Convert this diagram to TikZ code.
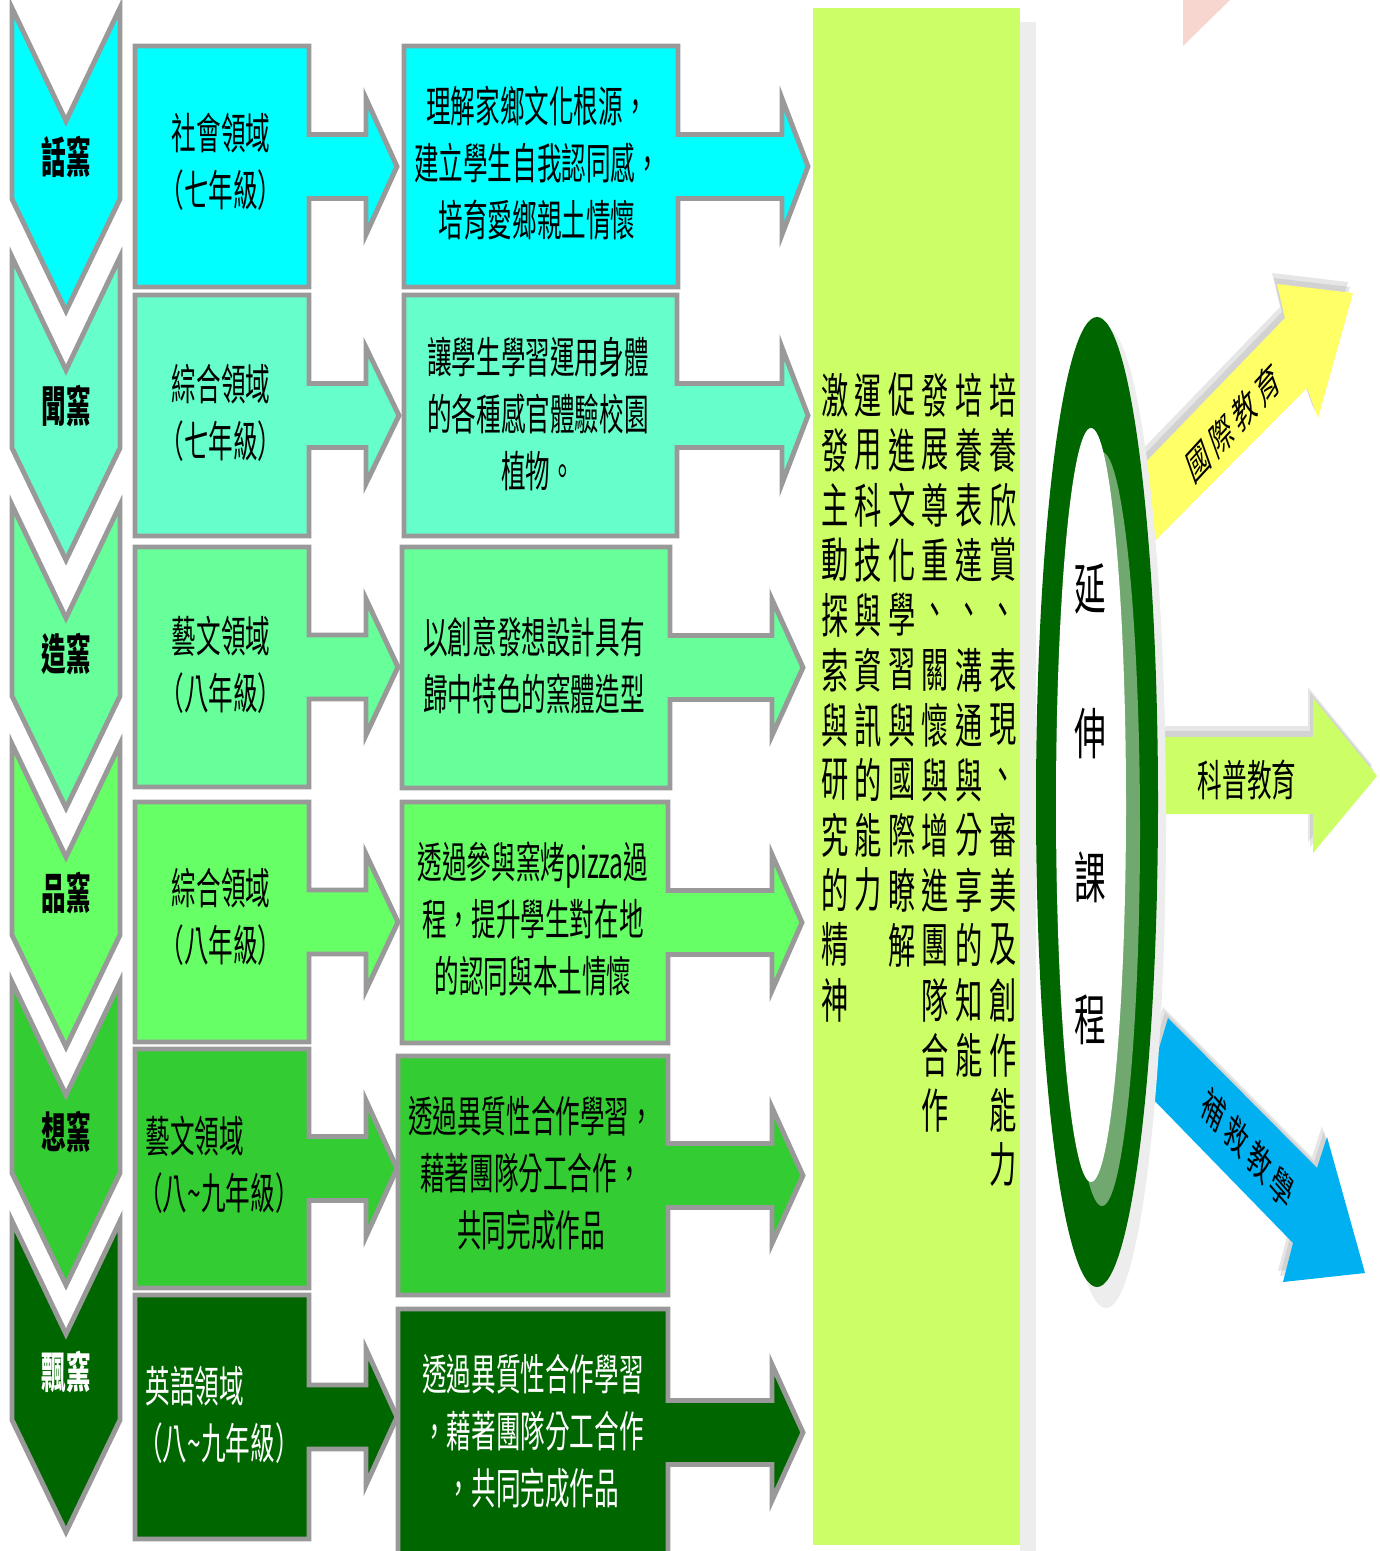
\documentclass[tikz,border=0pt]{standalone}
\usepackage{fontspec}
\setmainfont{Noto Sans CJK TC}
\usepackage{graphicx}
\newcommand\mytall[1]{\scalebox{1}[1.75]{#1}}
\newcommand\tbc[1]{\scalebox{1}[1.75]{\begin{tabular}{@{}c@{}}#1\end{tabular}}}
\newcommand\tbl[1]{\scalebox{1}[1.75]{\begin{tabular}{@{}l@{}}#1\end{tabular}}}
\definecolor{cA}{HTML}{00FFFF}
\definecolor{cB}{HTML}{66FFCC}
\definecolor{cC}{HTML}{66FF99}
\definecolor{cD}{HTML}{66FF66}
\definecolor{cE}{HTML}{33CC33}
\definecolor{cF}{HTML}{006600}
\definecolor{bordergray}{HTML}{999999}
\definecolor{limec}{HTML}{CCFF66}
\definecolor{yellc}{HTML}{FFFF66}
\definecolor{bluec}{HTML}{00B0F0}
\definecolor{bandc}{HTML}{70A870}
\definecolor{pinkc}{HTML}{F6D6CE}
\newcommand\chev[3]{%
  \draw[bline, fill=#3] (12,#1-113) -- (66,#1) -- (120,#1-113) -- (120,#1+#2)
    -- (66,#1+#2+112) -- (12,#1+#2) -- cycle;}
\newcommand\barrow[7]{%
  \pgfmathsetmacro\cy{(#3+#4)/2}%
  \draw[bline, fill=#7] (#1,#3) -- (#2,#3) -- (#2,\cy-32) -- (#5,\cy-32) -- (#5,\cy-68)
    -- (#6,\cy) -- (#5,\cy+68) -- (#5,\cy+32) -- (#2,\cy+32) -- (#2,#4) -- (#1,#4) -- cycle;}
\newcommand\yarrow{(1140,468) -- (1285,318) -- (1277,284) -- (1353,293) -- (1318,418) -- (1307,388) -- (1145,551) -- cycle}
\newcommand\garrow{(1150,737) -- (1313,737) -- (1313,698) -- (1377,776) -- (1313,853) -- (1313,814) -- (1150,814) -- cycle}
\newcommand\barrowpath{(1168,1018) -- (1317,1168) -- (1327,1137) -- (1365,1273) -- (1283,1282) -- (1293,1243) -- (1146,1092) -- cycle}
\begin{document}
\begin{tikzpicture}[x=0.02cm, y=-0.02cm,
  bline/.style={draw=bordergray, line width=2.8pt},
  lab/.style={inner sep=0pt, font=\bfseries\fontsize{14}{18}\selectfont},
  txt/.style={inner sep=0pt, font=\fontsize{14}{18.5}\selectfont},
  vt/.style={inner sep=0pt, font=\fontsize{15.5}{18}\selectfont},
  rt/.style={inner sep=0pt, font=\fontsize{18}{20}\selectfont},
  shad/.style={fill=black!60, opacity=0.16}]
\useasboundingbox (0,0) rectangle (1379,1551);

% pale corner triangle
\fill[pinkc] (1183,0) -- (1230,0) -- (1183,46) -- cycle;

% chevrons
\chev{121}{78}{cA}
\chev{370}{78}{cB}
\chev{618}{78}{cC}
\chev{857}{78}{cD}
\chev{1095}{78}{cE}
\chev{1334}{86}{cF}
\node[lab] (ch1) at (66,157) {\mytall{話窯}};
\node[lab] (ch2) at (66,406) {\mytall{聞窯}};
\node[lab] (ch3) at (66,654) {\mytall{造窯}};
\node[lab] (ch4) at (66,893) {\mytall{品窯}};
\node[lab] (ch5) at (66,1132) {\mytall{想窯}};
\node[lab, text=white] (ch6) at (66,1372) {\mytall{飄窯}};

% domain boxes
\barrow{135}{309}{46}{287}{366}{397}{cA}
\barrow{135}{309}{295}{536}{366}{399}{cB}
\barrow{135}{309}{547}{787}{366}{398}{cC}
\barrow{135}{309}{802}{1042}{366}{398}{cD}
\barrow{135}{309}{1049}{1288}{366}{397}{cE}
\barrow{135}{309}{1295}{1539}{366}{397}{cF}
\node[txt] (d1) at (221,167) {\tbc{社會領域\\（七年級）}};
\node[txt] (d2) at (221,418) {\tbc{綜合領域\\（七年級）}};
\node[txt] (d3) at (221,670) {\tbc{藝文領域\\（八年級）}};
\node[txt] (d4) at (221,922) {\tbc{綜合領域\\（八年級）}};
\node[txt] (d5) at (219,1170) {\tbl{\hspace{4pt}藝文領域\\（八\textasciitilde 九年級）}};
\node[txt, text=white] (d6) at (219,1420) {\tbl{\hspace{4pt}英語領域\\（八\textasciitilde 九年級）}};

% goal boxes
\barrow{404}{678}{46}{287}{782}{808}{cA}
\barrow{404}{677}{295}{536}{782}{808}{cB}
\barrow{402}{670}{547}{788}{772}{803}{cC}
\barrow{402}{668}{802}{1043}{772}{802}{cD}
\barrow{398}{668}{1056}{1295}{772}{803}{cE}
\barrow{398}{668}{1309}{1556}{772}{803}{cF}
\node[txt] (g1) at (537,168) {\tbc{理解家鄉文化根源，\\建立學生自我認同感，\\培育愛鄉親土情懷}};
\node[txt] (g2) at (538,419) {\tbc{讓學生學習運用身體\\的各種感官體驗校園\\植物。}};
\node[txt] (g3) at (534,671) {\tbc{以創意發想設計具有\\歸中特色的窯體造型}};
\node[txt] (g4) at (533,924) {\tbc{透過參與窯烤pizza過\\程，提升學生對在地\\的認同與本土情懷}};
\node[txt] (g5) at (531,1178) {\tbc{透過異質性合作學習，\\藉著團隊分工合作，\\共同完成作品}};
\node[txt, text=white] (g6) at (533,1436) {\tbc{透過異質性合作學習\\，藉著團隊分工合作\\，共同完成作品}};

% tall lime panel
\fill[black!7] (1020,22) rectangle (1036,1551);
\fill[limec] (813,8) rectangle (1020,1545);
\foreach \c [count=\i] in {培,養,欣,賞,、,表,現,、,審,美,及,創,作,能,力}
  \node[vt] (va-\i) at (1003,395+55*\i-55) {\mytall{\c}};
\foreach \c [count=\i] in {培,養,表,達,、,溝,通,與,分,享,的,知,能}
  \node[vt] (vb-\i) at (969,395+55*\i-55) {\mytall{\c}};
\foreach \c [count=\i] in {發,展,尊,重,、,關,懷,與,增,進,團,隊,合,作}
  \node[vt] (vc-\i) at (935,395+55*\i-55) {\mytall{\c}};
\foreach \c [count=\i] in {促,進,文,化,學,習,與,國,際,瞭,解}
  \node[vt] (vd-\i) at (902,395+55*\i-55) {\mytall{\c}};
\foreach \c [count=\i] in {運,用,科,技,與,資,訊,的,能,力}
  \node[vt] (ve-\i) at (868,395+55*\i-55) {\mytall{\c}};
\foreach \c [count=\i] in {激,發,主,動,探,索,與,研,究,的,精,神}
  \node[vt] (vf-\i) at (835,395+55*\i-55) {\mytall{\c}};

% right arrows (soft shadows first)
\begin{scope}[shift={(-3,-6)}]
  \fill[shad] \yarrow; \fill[shad] \garrow; \fill[shad] \barrowpath;
\end{scope}
\begin{scope}[shift={(-5,-11)}]
  \fill[shad] \yarrow; \fill[shad] \garrow; \fill[shad] \barrowpath;
\end{scope}
\fill[yellc] \yarrow;
\fill[limec] \garrow;
\fill[bluec] \barrowpath;
\node[inner sep=0pt] (a1) at (1233,423) {\scalebox{1}[1.75]{\rotatebox{32}{\fontsize{13}{16}\selectfont 國\hspace{2.5pt}際\hspace{2.5pt}教\hspace{2.5pt}育}}};
\node[inner sep=0pt] (a2) at (1247,780) {\scalebox{1}[1.75]{\fontsize{14}{16}\selectfont 科普教育}};
\node[inner sep=0pt] (a3) at (1248,1149) {\scalebox{1}[1.75]{\rotatebox{-33}{\fontsize{13}{16}\selectfont 補\hspace{2.5pt}救\hspace{2.5pt}教\hspace{2.5pt}學}}};

% ring
\fill[black!7] (1106,818) ellipse [x radius=60, y radius=490];
\fill[cF] (1097,802) ellipse [x radius=61, y radius=485];
\fill[bandc] (1102,829) ellipse [x radius=38, y radius=377];
\fill[white] (1091,805) ellipse [x radius=35, y radius=377];
\node[rt] (e1) at (1090,589) {\mytall{延}};
\node[rt] (e2) at (1090,734) {\mytall{伸}};
\node[rt] (e3) at (1090,877) {\mytall{課}};
\node[rt] (e4) at (1090,1020) {\mytall{程}};
\end{tikzpicture}
\end{document}
